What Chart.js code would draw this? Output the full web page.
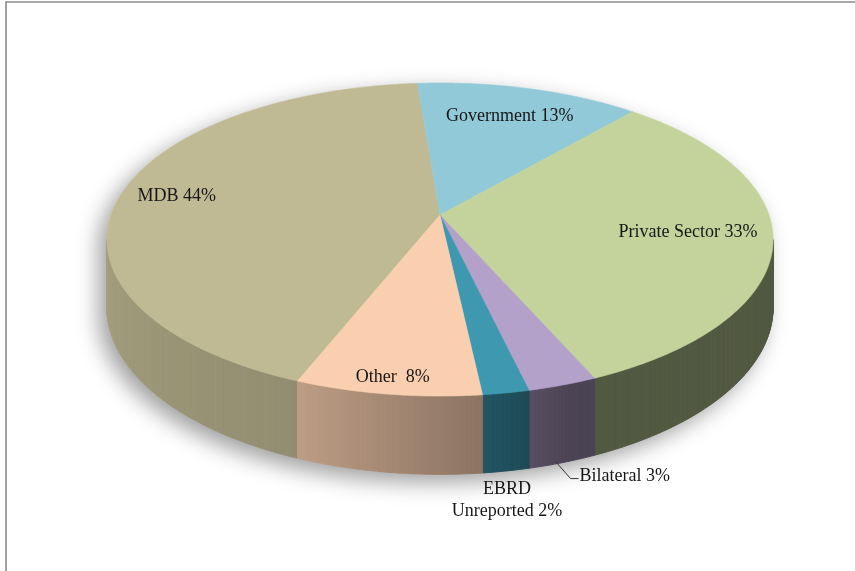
<!DOCTYPE html>
<html>
<head>
<meta charset="utf-8">
<script src="https://cdn.jsdelivr.net/npm/chart.js@4.4.1/dist/chart.umd.min.js"></script>
<style>
  html, body { margin: 0; padding: 0; background: #ffffff; }
  #wrap { position: relative; width: 855px; height: 571px; }
</style>
</head>
<body>
<div id="wrap"><canvas id="c" width="855" height="571"></canvas></div>
<script>
// Funding sources, share of total (%)
const categories = ['MDB', 'Government', 'Private Sector', 'Bilateral', 'EBRD Unreported', 'Other'];
const shares = [44, 13, 33, 3, 2, 8];
// Text shown on each slice ("\n" splits a label over two lines)
const labelNames = ['MDB', 'Government', 'Private Sector', 'Bilateral', 'EBRD\nUnreported', 'Other '];
const topColors = ['#C0BA94', '#92C9D9', '#C3D39B', '#B3A1C9', '#3D98B0', '#F9CFAF'];

// Perspective view of the tilted disc
const VIEW = { cx: 440, cy: 215, A: 329, B: 152.7, p: 0.1566, depth: 66 };
// Where each inside label sits, as a fraction of the radius along the slice's mid angle
const LABEL_RADIUS = [0.825, 0.756, 0.749, null, null, 0.918];

function proj(phi, r) {
  const u = r * Math.cos(phi), v = r * Math.sin(phi);
  const w = 1 - VIEW.p * v;
  return { x: VIEW.cx + VIEW.A * u / w, y: VIEW.cy + VIEW.B * v / w, w: w };
}
function projBottom(phi) {
  const q = proj(phi, 1);
  q.y += VIEW.depth / q.w;
  return q;
}
function hexRgb(h) {
  const n = parseInt(h.slice(1), 16);
  return [(n >> 16) & 255, (n >> 8) & 255, n & 255];
}
// Brightness of the rim wall depending on which way it faces
function wallLight(deg) {
  const k = [[0, 0.42], [70, 0.42], [85, 0.57], [112, 0.76], [180, 0.87], [360, 0.87]];
  deg = ((deg % 360) + 360) % 360;
  for (let i = 1; i < k.length; i++) {
    if (deg <= k[i][0]) {
      const t = (deg - k[i - 1][0]) / (k[i][0] - k[i - 1][0]);
      return k[i - 1][1] + t * (k[i][1] - k[i - 1][1]);
    }
  }
  return 0.87;
}
function shade(hex, f) {
  const c = hexRgb(hex).map(v => Math.round(v * f));
  return 'rgb(' + c.join(',') + ')';
}

const DEG = Math.PI / 180;
const VIS0 = Math.asin(VIEW.p), VIS1 = Math.PI - Math.asin(VIEW.p);

const pie3d = {
  id: 'pie3d',
  beforeDatasetsDraw(chart) {
    const ctx = chart.ctx;
    const meta = chart.getDatasetMeta(0);
    const arcs = meta.data.map((el, i) => ({ i: i, s: el.startAngle, e: el.endAngle }));

    // soft drop shadow under the whole disc
    ctx.save();
    ctx.shadowColor = 'rgba(0,0,0,0.38)';
    ctx.shadowBlur = 22;
    ctx.shadowOffsetX = -8;
    ctx.shadowOffsetY = 8;
    ctx.beginPath();
    for (let a = VIS1; a <= VIS0 + 2 * Math.PI + 1e-9; a += DEG / 2) {
      const q = proj(a, 1);
      ctx.lineTo(q.x, q.y);
    }
    for (let a = VIS0; a <= VIS1 + 1e-9; a += DEG / 2) {
      const q = projBottom(a);
      ctx.lineTo(q.x, q.y);
    }
    ctx.closePath();
    ctx.fillStyle = '#ffffff';
    ctx.fill();
    ctx.restore();

    // front wall, drawn in thin strips so the light can vary
    arcs.forEach(arc => {
      const col = topColors[arc.i];
      for (let k = -1; k <= 2; k++) {
        const lo = Math.max(arc.s, VIS0 + 2 * Math.PI * k);
        const hi = Math.min(arc.e, VIS1 + 2 * Math.PI * k);
        if (hi <= lo) continue;
        const step = DEG / 2;
        for (let a = lo; a < hi; a += step) {
          const b = Math.min(hi, a + step);
          const t1 = proj(a, 1), t2 = proj(b, 1), b2 = projBottom(b), b1 = projBottom(a);
          const c = shade(col, wallLight(((a + b) / 2) / DEG));
          ctx.beginPath();
          ctx.moveTo(t1.x, t1.y);
          ctx.lineTo(t2.x, t2.y);
          ctx.lineTo(b2.x, b2.y);
          ctx.lineTo(b1.x, b1.y);
          ctx.closePath();
          ctx.fillStyle = c;
          ctx.strokeStyle = c;
          ctx.lineWidth = 1;
          ctx.fill();
          ctx.stroke();
        }
      }
    });

    // top face slices
    arcs.forEach(arc => {
      ctx.beginPath();
      const o = proj(0, 0);
      ctx.moveTo(o.x, o.y);
      const n = Math.max(2, Math.ceil((arc.e - arc.s) / (DEG / 2)));
      for (let j = 0; j <= n; j++) {
        const q = proj(arc.s + (arc.e - arc.s) * j / n, 1);
        ctx.lineTo(q.x, q.y);
      }
      ctx.closePath();
      ctx.fillStyle = topColors[arc.i];
      ctx.fill();
      ctx.strokeStyle = topColors[arc.i];
      ctx.lineWidth = 0.6;
      ctx.stroke();
    });

    // labels
    ctx.save();
    ctx.font = '18px "Liberation Serif", "Times New Roman", serif';
    ctx.fillStyle = '#161616';
    ctx.textBaseline = 'middle';
    arcs.forEach(arc => {
      const lines = (labelNames[arc.i] + ' ' + shares[arc.i] + '%').split('\n');
      const mid = (arc.s + arc.e) / 2;
      if (LABEL_RADIUS[arc.i] !== null) {
        const q = proj(mid, LABEL_RADIUS[arc.i]);
        ctx.textAlign = 'center';
        ctx.fillText(lines[0], q.x, q.y);
      } else if (lines.length === 1) {
        // outside label with a leader line from the wall
        const q = projBottom(mid);
        const ax = q.x - 7, ay = q.y - 1;
        const ex = ax + 15, ey = ay + 17;
        ctx.beginPath();
        ctx.moveTo(ax, ay);
        ctx.lineTo(ex, ey);
        ctx.lineTo(ex + 8, ey);
        ctx.strokeStyle = '#333333';
        ctx.lineWidth = 1;
        ctx.stroke();
        ctx.textAlign = 'left';
        ctx.fillText(lines[0], ex + 9, ey - 2);
      } else {
        const q = projBottom(mid);
        ctx.textAlign = 'center';
        lines.forEach((t, li) => ctx.fillText(t, q.x + 1, q.y + 18 + li * 22));
      }
    });
    ctx.restore();

    return false;
  },
  afterDraw(chart) {
    const ctx = chart.ctx;
    ctx.save();
    ctx.strokeStyle = '#8c8c8c';
    ctx.lineWidth = 1.6;
    ctx.beginPath();
    ctx.moveTo(6, 571);
    ctx.lineTo(6, 2);
    ctx.lineTo(855, 2);
    ctx.stroke();
    ctx.restore();
  }
};

new Chart(document.getElementById('c'), {
  type: 'pie',
  data: {
    labels: categories,
    datasets: [{ data: shares, backgroundColor: topColors, borderWidth: 0 }]
  },
  options: {
    responsive: false,
    animation: false,
    rotation: 201.7,
    events: [],
    plugins: { legend: { display: false }, tooltip: { enabled: false } }
  },
  plugins: [pie3d]
});
</script>
</body>
</html>
